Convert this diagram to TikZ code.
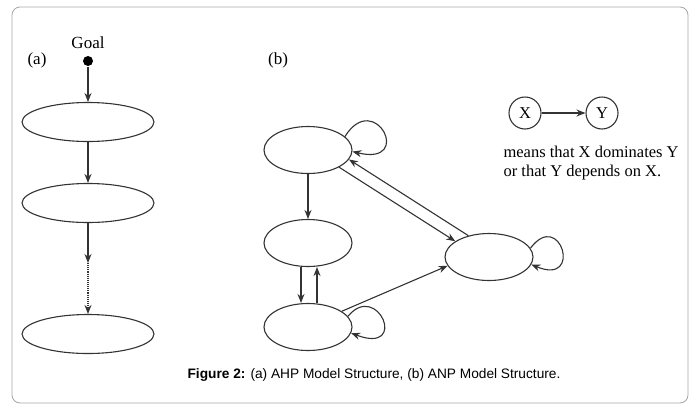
\documentclass[tikz,border=0pt]{standalone}
\usepackage{fontspec}
\setmainfont{Liberation Serif}
\newfontfamily\capfont{Liberation Sans}
\usetikzlibrary{shapes.geometric}
\usetikzlibrary{arrows.meta}

\begin{document}
\begin{tikzpicture}[x=1pt, y=-1pt, line width=1.1pt, draw=black!80,
  block/.style={ellipse, draw, minimum width=88pt, minimum height=47pt, inner sep=0pt},
  hier/.style={ellipse, draw, minimum width=132pt, minimum height=39pt, inner sep=0pt},
  sym/.style={circle, draw, minimum size=32pt, inner sep=0pt, font=\fontsize{16.5}{19}\selectfont},
  arr/.style={-{Stealth[length=9pt,width=7pt]}},
  lbl/.style={font=\fontsize{17}{20}\selectfont}]
  \useasboundingbox (0,0) rectangle (696,410);
  \draw[black!35, line width=0.8pt, rounded corners=8pt] (12,7) rectangle (688,403);
  % (a) AHP
  \node[lbl] (goal) at (88,43) {Goal};
  \node[lbl] (la) at (37,60) {(a)};
  \node[circle, fill=black, inner sep=0pt, minimum size=10pt] (g) at (88,61) {};
  \node[hier] (h1) at (88,122) {};
  \node[hier] (h2) at (88,203) {};
  \node[hier] (h3) at (88,334) {};
  \coordinate (hmid) at (88,263);
  \draw[arr] (g) -- (h1);
  \draw[arr] (h1) -- (h2);
  \draw[arr] (h2) -- (hmid);
  \draw[arr, densely dotted] (hmid) -- (h3);
  % (b) ANP
  \node[lbl] (lb) at (278,60) {(b)};
  \node[block] (b1) at (308,150) {};
  \node[block] (b2) at (308,243) {};
  \node[block] (b3) at (308,327) {};
  \node[block] (b4) at (489,257) {};
  \draw[arr] (b1) -- (b2);
  \draw[arr] ([xshift=-7pt]b2.south) -- ([xshift=-7pt]b3.north);
  \draw[arr] ([xshift=9pt]b3.north) -- ([xshift=9pt]b2.south);
  \draw[arr] (b1.-29) -- (b4.155);
  \draw[arr] (b4.134) -- (b1.-13);
  \draw[arr] (b3.25) -- (b4.192);
  % Loops
  \draw[arr] (b1.20) .. controls +(30,-48) and +(62,15) .. (b1.-2);
  \draw[arr] (b3.15) .. controls +(30,-36) and +(58,22) .. (b3.-8);
  \draw[arr] (b4.12) .. controls +(30,-40) and +(52,22) .. (b4.-10);
  % Legend
  \node[sym] (x) at (525,113) {X};
  \node[sym] (y) at (602,113) {Y};
  \draw[arr] (x) -- (y);
  \node[anchor=north west, align=left, inner sep=0pt, font=\fontsize{16.5}{19}\selectfont] (note) at (503,145) {means that X dominates Y\\or that Y depends on X.};
  % Caption
  \node[font=\fontsize{13.7}{16}\selectfont\capfont] (cap) at (374,375) {\textbf{Figure 2:} (a) AHP Model Structure, (b) ANP Model Structure.};
\end{tikzpicture}
\end{document}
